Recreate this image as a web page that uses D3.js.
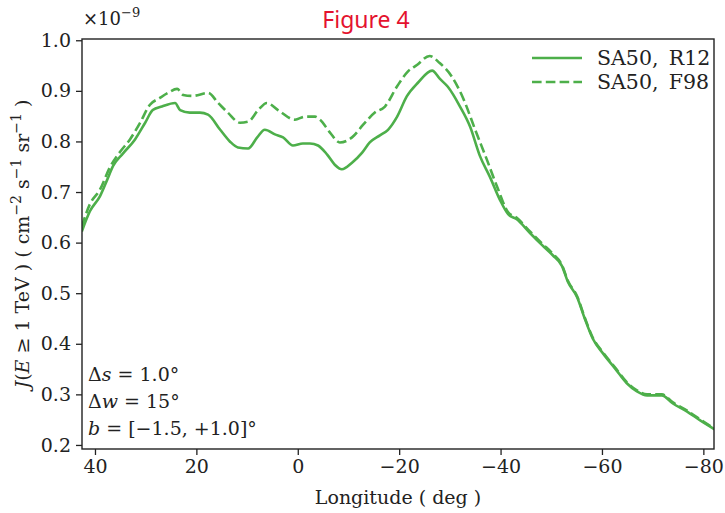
<!DOCTYPE html>
<html>
<head>
<meta charset="utf-8">
<script src="https://cdn.jsdelivr.net/npm/d3@7"></script>
<style>
  body { margin: 0; background: #fff; }
</style>
</head>
<body>
<svg id="chart"></svg>
<script>
// longitude (deg) and J values (x1e-9)
var lonR12 = [42.6, 41, 39, 37.6, 36.4, 34.5, 32.1, 30.1, 28.6, 26.8, 24.2, 23.2, 21.3, 19.3, 17.7, 15.3, 13.4, 11.8, 9.8, 8.0, 6.5, 4.5, 2.9, 0.95, -1.0, -2.4, -4.0, -5.8, -7.3, -8.7, -10.7, -12.7, -14.2, -16.2, -17.8, -19.6, -21.5, -23.7, -26.5, -28.0, -29.6, -32.0, -34.0, -35.9, -37.9, -39.9, -41.5, -43.2, -45.8, -48.2, -50.3, -52.1, -53.3, -55.1, -56.6, -58.2, -60.2, -62.6, -64.9, -66.9, -68.9, -71.8, -74.0, -76.8, -79.3, -82.2];
var valR12 = [0.622, 0.662, 0.692, 0.724, 0.752, 0.776, 0.804, 0.837, 0.862, 0.869, 0.876, 0.862, 0.857, 0.857, 0.853, 0.823, 0.800, 0.788, 0.786, 0.808, 0.823, 0.814, 0.808, 0.792, 0.796, 0.796, 0.792, 0.774, 0.754, 0.745, 0.758, 0.778, 0.798, 0.812, 0.823, 0.849, 0.889, 0.916, 0.940, 0.924, 0.908, 0.869, 0.829, 0.772, 0.730, 0.684, 0.656, 0.646, 0.619, 0.595, 0.575, 0.554, 0.522, 0.492, 0.450, 0.410, 0.381, 0.351, 0.322, 0.306, 0.298, 0.298, 0.282, 0.266, 0.249, 0.231];

var lonF98 = [42.6, 41, 39, 37, 35, 33.1, 31.1, 29.2, 27.2, 25.6, 23.8, 22.6, 20.7, 17.7, 15.7, 13.8, 11.4, 9.8, 7.8, 6.1, 3.9, 0.55, -1.4, -3.4, -4.4, -6.4, -8.3, -10.7, -12.9, -15.2, -17.2, -19.6, -21.7, -23.5, -26.0, -28.0, -30.4, -32.6, -35.0, -37.3, -39.3, -41.5, -43.2, -45.8, -48.2, -50.3, -52.1, -53.3, -55.1, -56.6, -58.2, -60.2, -62.6, -64.9, -66.9, -68.9, -71.8, -74.0, -76.8, -79.3, -82.2];
var valF98 = [0.632, 0.676, 0.705, 0.750, 0.780, 0.804, 0.837, 0.872, 0.886, 0.896, 0.904, 0.892, 0.890, 0.896, 0.876, 0.857, 0.837, 0.839, 0.862, 0.876, 0.862, 0.843, 0.849, 0.849, 0.843, 0.817, 0.798, 0.808, 0.833, 0.857, 0.869, 0.909, 0.938, 0.951, 0.969, 0.955, 0.928, 0.886, 0.823, 0.764, 0.711, 0.660, 0.649, 0.622, 0.598, 0.578, 0.556, 0.524, 0.494, 0.452, 0.412, 0.383, 0.353, 0.324, 0.308, 0.300, 0.300, 0.284, 0.268, 0.251, 0.232];

var xTicks = [40, 20, 0, -20, -40, -60, -80];
var yTicks = [0.2, 0.3, 0.4, 0.5, 0.6, 0.7, 0.8, 0.9, 1.0];
var seriesNames = ["SA50,\u2002R12", "SA50,\u2002F98"];

var green = "#4daf4a";
var serif = "'DejaVu Serif', 'Liberation Serif', serif";

var W = 725, H = 513;
var margin = { top: 39, right: 11, bottom: 64, left: 82 },
  width = W - margin.left - margin.right,
  height = H - margin.top - margin.bottom;

var svg = d3.select("#chart").attr("width", W).attr("height", H);

var g = svg.append("g")
  .attr("transform", "translate(" + margin.left + "," + margin.top + ")");

var x = d3.scaleLinear().domain([42.56, -82.1]).range([0, width]);
var y = d3.scaleLinear().domain([0.192, 1.0025]).range([height, 0]);

// clip
g.append("clipPath").attr("id", "clip")
  .append("rect").attr("width", width).attr("height", height);

var line = d3.line()
  .x(function (d) { return x(d[0]); })
  .y(function (d) { return y(d[1]); })
  .curve(d3.curveMonotoneX);

var r12 = lonR12.map(function (l, i) { return [l, valR12[i]]; });
var f98 = lonF98.map(function (l, i) { return [l, valF98[i]]; });

var plot = g.append("g").attr("clip-path", "url(#clip)");

plot.append("path")
  .datum(f98)
  .attr("fill", "none")
  .attr("stroke", green)
  .attr("stroke-width", 2.6)
  .attr("stroke-dasharray", "9.6,4.2")
  .attr("d", line);

plot.append("path")
  .datum(r12)
  .attr("fill", "none")
  .attr("stroke", green)
  .attr("stroke-width", 2.6)
  .attr("d", line);

// axes
var xAxis = g.append("g")
  .attr("transform", "translate(0," + height + ")")
  .call(d3.axisBottom(x).tickValues(xTicks).tickSize(6).tickPadding(5)
    .tickFormat(function (d) { return d < 0 ? "\u2212" + (-d) : d; }));

var yAxis = g.append("g")
  .call(d3.axisLeft(y).tickValues(yTicks).tickSize(6).tickPadding(5)
    .tickFormat(d3.format(".1f")));

[xAxis, yAxis].forEach(function (a) {
  a.attr("font-family", serif).attr("font-size", 19);
  a.select(".domain").remove();
  a.selectAll(".tick line").attr("stroke", "#222").attr("stroke-width", 1.3);
  a.selectAll(".tick text").attr("fill", "#222");
});

// frame
g.append("rect")
  .attr("width", width).attr("height", height)
  .attr("fill", "none").attr("stroke", "#222").attr("stroke-width", 1.4);

// exponent
var ex = svg.append("text").attr("x", 83).attr("y", 25)
  .attr("font-family", serif).attr("font-size", 18).attr("fill", "#222");
ex.append("tspan").text("\u00d710");
ex.append("tspan").attr("dy", -8).attr("font-size", 13).text("\u22129");

// title
svg.append("text")
  .attr("x", 366).attr("y", 28)
  .attr("text-anchor", "middle")
  .attr("font-size", 23)
  .attr("font-family", "'Noto Sans', sans-serif")
  .attr("fill", "#e4122e")
  .text("Figure 4");

// x label
svg.append("text")
  .attr("x", 398).attr("y", 504)
  .attr("text-anchor", "middle")
  .attr("font-family", serif).attr("font-size", 19).attr("fill", "#222")
  .text("Longitude ( deg )");

// y label
var yl = svg.append("text")
  .attr("transform", "translate(29," + (margin.top + height / 2) + ") rotate(-90)")
  .attr("text-anchor", "middle")
  .attr("font-family", serif).attr("font-size", 19).attr("fill", "#222");
yl.append("tspan").attr("font-style", "italic").text("J");
yl.append("tspan").text("(");
yl.append("tspan").attr("font-style", "italic").text("E");
yl.append("tspan").text(" \u2265 1 TeV ) ( cm");
yl.append("tspan").attr("dy", -8).attr("font-size", 14).text("\u22122");
yl.append("tspan").attr("dy", 8).text(" s");
yl.append("tspan").attr("dy", -8).attr("font-size", 14).text("\u22121");
yl.append("tspan").attr("dy", 8).text(" sr");
yl.append("tspan").attr("dy", -8).attr("font-size", 14).text("\u22121");
yl.append("tspan").attr("dy", 8).text(" )");

// annotation
var ann = [
  [["\u0394", ""], ["s", "italic"], [" = 1.0\u00b0", ""]],
  [["\u0394", ""], ["w", "italic"], [" = 15\u00b0", ""]],
  [["b", "italic"], [" = [\u22121.5, +1.0]\u00b0", ""]]
];
ann.forEach(function (parts, i) {
  var t = svg.append("text").attr("x", 88).attr("y", 381 + i * 27)
    .attr("font-family", serif).attr("font-size", 19).attr("fill", "#222");
  parts.forEach(function (p) {
    t.append("tspan").attr("font-style", p[1] || null).text(p[0]);
  });
});

// legend
var leg = svg.append("g");
seriesNames.forEach(function (name, i) {
  var ly = 58 + i * 24;
  leg.append("line")
    .attr("x1", 532).attr("x2", 582).attr("y1", ly).attr("y2", ly)
    .attr("stroke", green).attr("stroke-width", 2.6)
    .attr("stroke-dasharray", i === 1 ? "9.6,4.2" : null);
  leg.append("text")
    .attr("x", 597).attr("y", ly + 7)
    .attr("font-family", serif).attr("font-size", 20.5).attr("fill", "#222")
    .text(name);
});
</script>
</body>
</html>
